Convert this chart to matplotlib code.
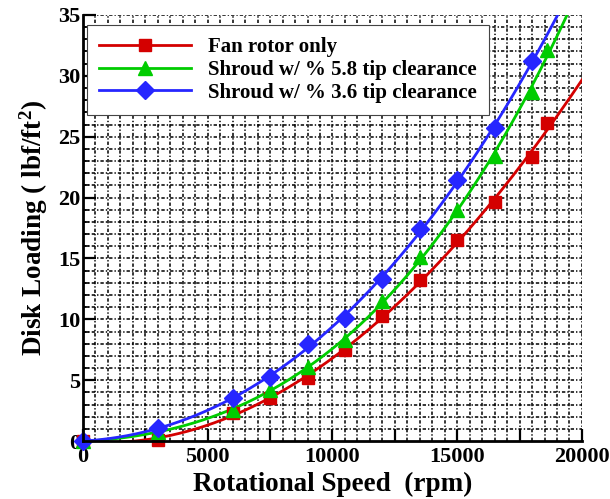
import numpy as np
import matplotlib
matplotlib.use("Agg")
from matplotlib import pyplot as plt

plt.rcParams['font.family'] = ['Liberation Serif', 'DejaVu Serif']
plt.rcParams['font.weight'] = 'bold'
plt.rcParams['mathtext.fontset'] = 'custom'
plt.rcParams['mathtext.rm'] = 'Liberation Serif:bold'
plt.rcParams['mathtext.it'] = 'Liberation Serif:bold'

# rotational speed (rpm) and disk loading (lbf/ft^2) for each configuration
rpm_fan = [0, 3000, 6000, 7500, 9000, 10500, 12000, 13500, 15000, 16500, 18000, 18600]
load_fan = [0.0, 0.1, 2.3, 3.55, 5.2, 7.5, 10.3, 13.2, 16.5, 19.6, 23.3, 26.1]

rpm_58 = [0, 3000, 6000, 7500, 9000, 10500, 12000, 13500, 15000, 16500, 18000, 18600]
load_58 = [0.0, 0.75, 2.55, 4.2, 6.05, 8.3, 11.5, 15.1, 19.0, 23.4, 28.7, 32.1]

rpm_36 = [0, 3000, 6000, 7500, 9000, 10500, 12000, 13500, 15000, 16500, 18000]
load_36 = [0.0, 1.05, 3.55, 5.25, 8.0, 10.1, 13.3, 17.4, 21.45, 25.7, 31.2]

series = [
    ("Fan rotor only", rpm_fan, load_fan, "#d40000", "s", 9),
    ("Shroud w/ % 5.8 tip clearance", rpm_58, load_58, "#00cc00", "^", 10),
    ("Shroud w/ % 3.6 tip clearance", rpm_36, load_36, "#2626ff", "D", 9),
]

fig = plt.figure(figsize=(6.10, 4.99), dpi=100)
ax = fig.add_axes([0.136, 0.116, 0.818, 0.854])

ax.set_xlim(0, 20000)
ax.set_ylim(0, 35)

# dense dash-dot grid, one line every 500 rpm and every 1 lbf/ft^2
grid_style = dict(color="black", lw=1.1, linestyle=(0, (2.2, 1.3, 0.9, 1.3)), zorder=1)
for gx in np.arange(500, 20001, 500):
    ax.axvline(gx, **grid_style)
for gy in np.arange(1, 35.01, 1):
    ax.axhline(gy, **grid_style)

# cubic curve fit drawn through each data set
xfit = np.linspace(0, 20000, 400)
for label, x, y, color, marker, ms in series:
    coef = np.polyfit(x, y, 3)
    ax.plot(xfit, np.polyval(coef, xfit), color=color, lw=2.0, zorder=3)
    ax.plot(x, y, linestyle="none", marker=marker, color=color,
            ms=ms, clip_on=False, zorder=4)

# legend handles: line + marker
handles = []
for label, x, y, color, marker, ms in series:
    h, = ax.plot([], [], color=color, lw=2.0, marker=marker, ms=ms, label=label)
    handles.append(h)
leg = ax.legend(handles=handles, loc="upper left", bbox_to_anchor=(0.008, 0.977),
                borderaxespad=0, fontsize=15, handlelength=4.4, handletextpad=0.8,
                labelspacing=0.13, borderpad=0.6, fancybox=False,
                framealpha=1.0, edgecolor="#444444")
leg.get_frame().set_linewidth(0.8)
leg.set_zorder(5)

for side in ("top", "right"):
    ax.spines[side].set_visible(False)
for side in ("left", "bottom"):
    ax.spines[side].set_linewidth(2.0)
    ax.spines[side].set_zorder(6)

ax.set_xticks(np.arange(0, 20001, 5000))
ax.set_xticks(np.arange(2500, 20000, 5000), minor=True)
ax.set_yticks(np.arange(0, 35.01, 5))
ax.set_yticks(np.arange(1, 35, 1), minor=True)
ax.tick_params(axis="both", which="major", direction="in", length=9, width=1.6,
               labelsize=16, pad=4)
ax.tick_params(axis="x", which="minor", direction="in", length=9, width=1.6)
ax.tick_params(axis="y", which="minor", direction="in", length=4, width=1.2)
ax.tick_params(axis="y", which="major", pad=2)

ax.set_xlabel("Rotational Speed  (rpm)", fontsize=19.5, fontweight="bold", labelpad=4)
ax.set_ylabel("Disk Loading ( lbf/ft$^2$)", fontsize=19.5, fontweight="bold", labelpad=6)

fig.savefig("out.png", dpi=100)
